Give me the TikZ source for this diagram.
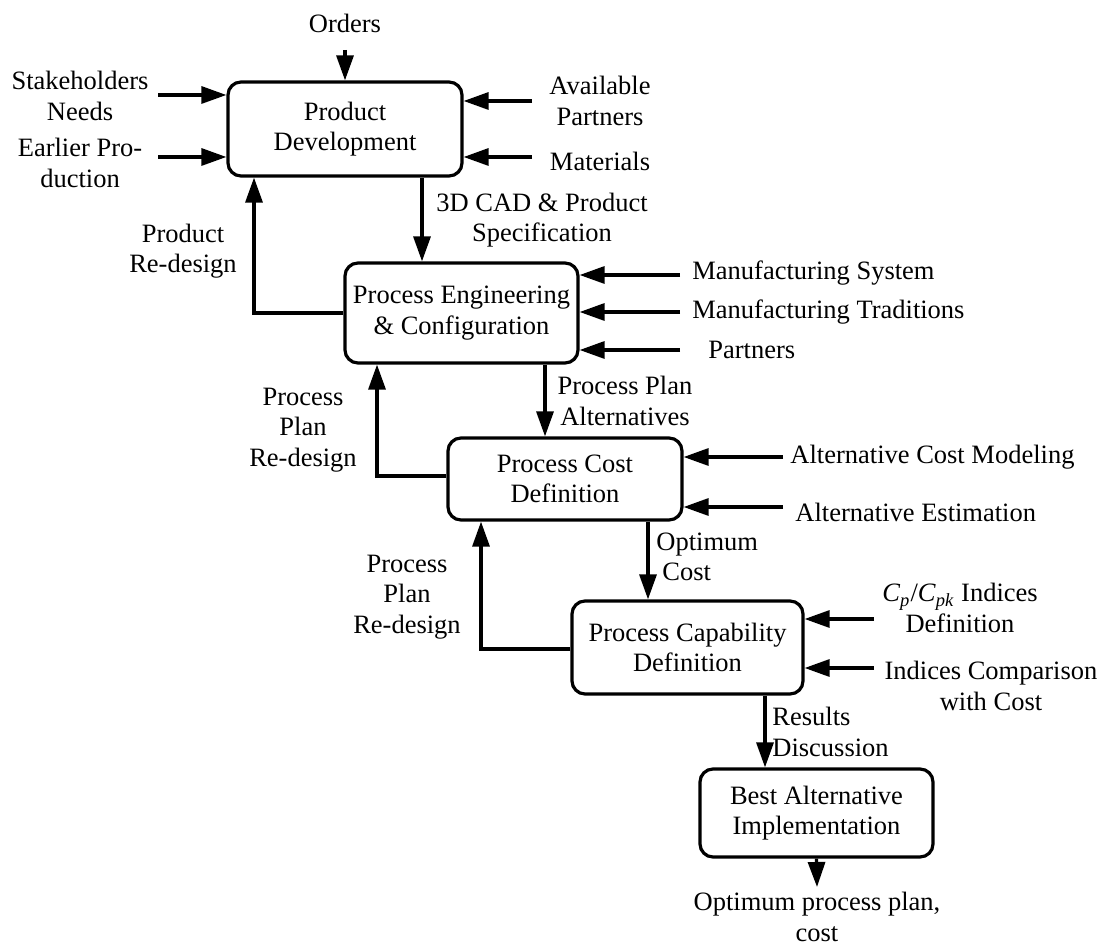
\documentclass[tikz,border=0pt]{standalone}
\usepackage{fontspec}
\setmainfont{Liberation Serif}
\usetikzlibrary{arrows.meta}
\begin{document}
\begin{tikzpicture}[x=0.5pt,y=-0.5pt,
  lbl/.style={font=\fontsize{13.25pt}{15.25pt}\selectfont, inner sep=0pt, align=center},
  box/.style={lbl, draw, line width=1.6pt, rounded corners=6.5pt},
  arr/.style={line width=1.6pt, -{Triangle[length=12.5pt,width=8.5pt]}},
  ln/.style={line width=1.6pt}]
\useasboundingbox (0,0) rectangle (1101,945);

% boxes
\node[box, minimum width=117pt, minimum height=47pt] (pd) at (345,129) {Product\\Development};
\node[box, minimum width=116.5pt, minimum height=50pt] (pe) at (461.5,313) {Process Engineering\\\& Configuration};
\node[box, minimum width=117pt, minimum height=41pt] (pc) at (565,479) {Process Cost\\Definition};
\node[box, minimum width=115.5pt, minimum height=46.5pt] (pcap) at (687.5,647.5) {Process Capability\\Definition};
\node[box, minimum width=116.5pt, minimum height=44pt] (ba) at (816.5,813) {Best Alternative\\Implementation};

% labels
\node[lbl] (orders) at (345,23) {Orders};
\node[lbl] (stake) at (80,96) {Stakeholders\\Needs};
\node[lbl] (earlier) at (80,163) {Earlier Pro-\\duction};
\node[lbl] (avail) at (600,101) {Available\\Partners};
\node[lbl] (mat) at (600,161) {Materials};
\node[lbl] (cad) at (542,220) {3D CAD \& Product\\Specification};
\node[lbl] (prd) at (183,251) {Product\\Re-design};
\node[lbl, anchor=west] (ms) at (692,273) {Manufacturing System};
\node[lbl, anchor=west] (mt) at (692,312) {Manufacturing Traditions};
\node[lbl, anchor=west] (pa) at (708,350) {Partners};
\node[lbl] (ppa) at (625,401) {Process Plan\\Alternatives};
\node[lbl] (ppr1) at (303,430) {Process\\Plan\\Re-design};
\node[lbl, anchor=west] (acm) at (790,457) {Alternative Cost Modeling};
\node[lbl, anchor=west] (ae) at (795,512) {Alternative Estimation};
\node[lbl, align=left, anchor=west] (oc) at (656,557) {Optimum\\\hspace*{3pt}Cost};
\node[lbl] (ppr2) at (407,597) {Process\\Plan\\Re-design};
\node[lbl] (cp) at (960,608) {\textit{C}\textsubscript{\textit{p}}/\textit{C}\textsubscript{\textit{pk}} Indices\\Definition};
\node[lbl] (ic) at (991,686) {Indices Comparison\\with Cost};
\node[lbl, align=left, anchor=west] (rd) at (772,732) {Results\\Discussion};
\node[lbl] (out) at (817,917) {Optimum process plan,\\cost};

% free ends
\coordinate (cOrd) at (345,50);
\coordinate (cSt) at (158,95);
\coordinate (cEa) at (158,157);
\coordinate (cAv) at (532,101);
\coordinate (cMa) at (532,157);
\coordinate (cMs) at (680,275);
\coordinate (cMt) at (680,312);
\coordinate (cPa) at (680,350);
\coordinate (cAcm) at (783,457);
\coordinate (cAe) at (783,507);
\coordinate (cCp) at (874,619);
\coordinate (cIc) at (874,668);
\coordinate (cOut) at (817,887);

% inputs
\draw[arr] (cOrd) -- (pd.north);
\draw[arr] (cSt) -- (cSt -| pd.west);
\draw[arr] (cEa) -- (cEa -| pd.west);
\draw[arr] (cAv) -- (cAv -| pd.east);
\draw[arr] (cMa) -- (cMa -| pd.east);
\draw[arr] (cMs) -- (cMs -| pe.east);
\draw[arr] (cMt) -- (cMt -| pe.east);
\draw[arr] (cPa) -- (cPa -| pe.east);
\draw[arr] (cAcm) -- (cAcm -| pc.east);
\draw[arr] (cAe) -- (cAe -| pc.east);
\draw[arr] (cCp) -- (cCp -| pcap.east);
\draw[arr] (cIc) -- (cIc -| pcap.east);

% main flow
\draw[arr] (422,0 |- pd.south) -- (422,0 |- pe.north);
\draw[arr] (545,0 |- pe.south) -- (545,0 |- pc.north);
\draw[arr] (648,0 |- pc.south) -- (648,0 |- pcap.north);
\draw[arr] (765,0 |- pcap.south) -- (765,0 |- ba.north);
\draw[arr] (ba.south) -- (cOut);

% feedback
\draw[arr] (pe.west) -- (254,313) -- (254,0 |- pd.south);
\draw[arr] (pc.west |- 0,476) -- (377,476) -- (377,0 |- pe.south);
\draw[arr] (pcap.west |- 0,649) -- (481,649) -- (481,0 |- pc.south);
\end{tikzpicture}
\end{document}
